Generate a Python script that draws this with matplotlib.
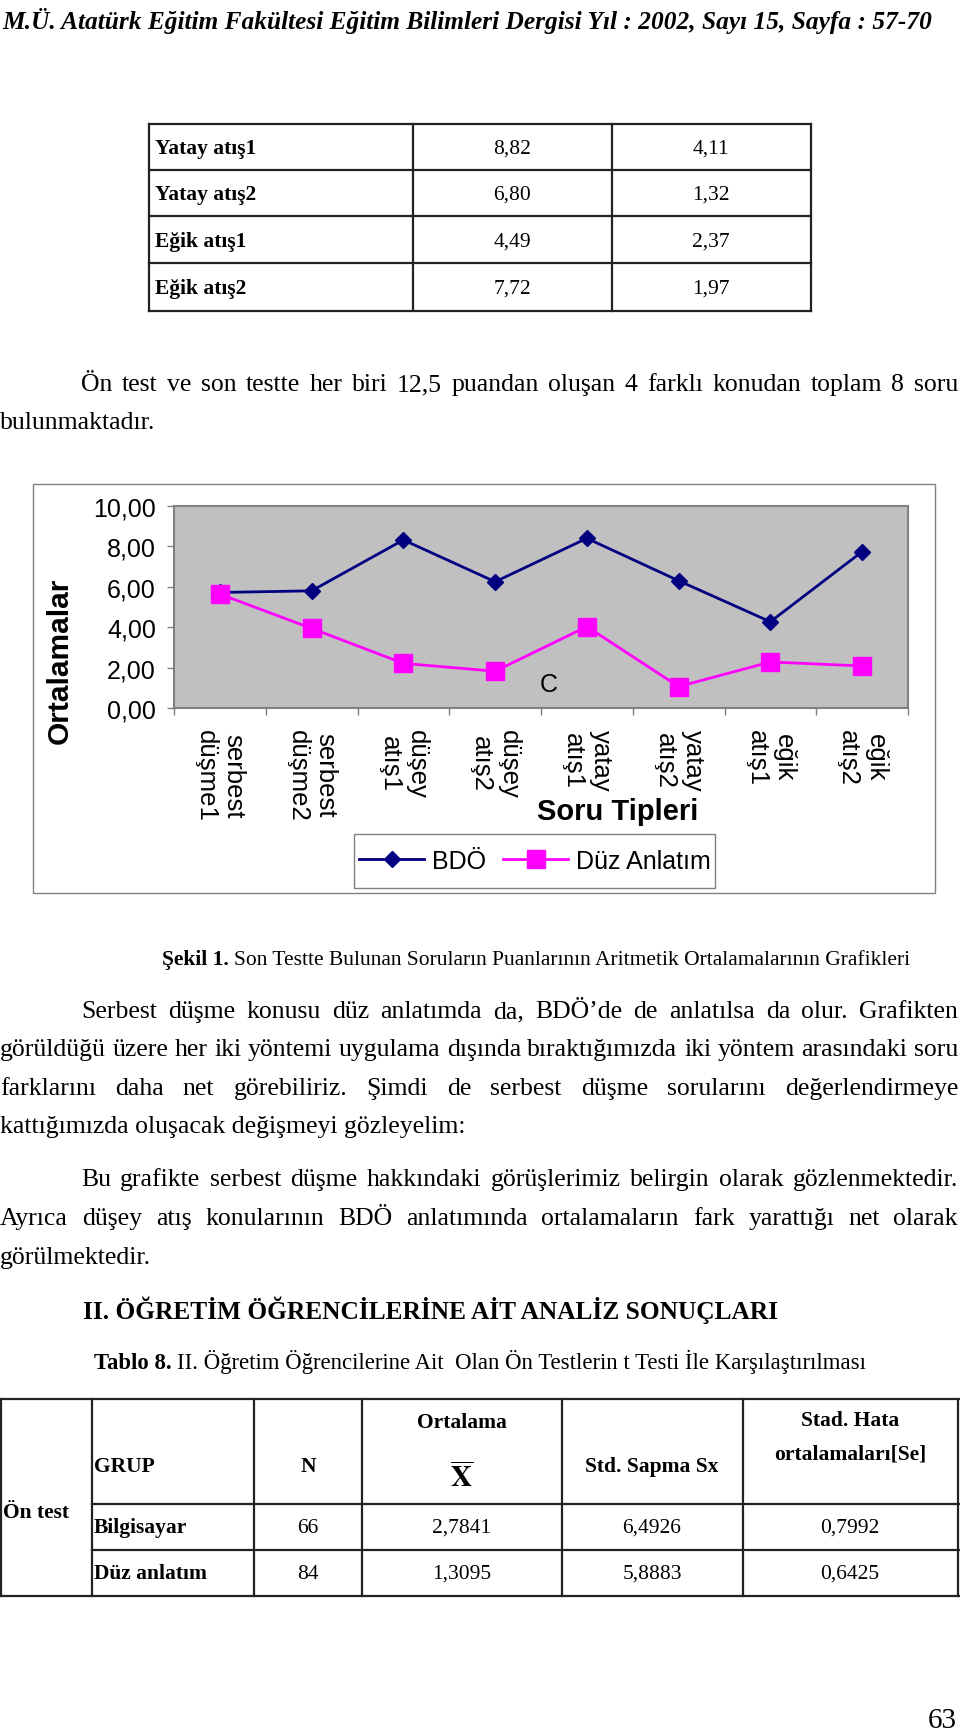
import matplotlib
matplotlib.use("Agg")
import matplotlib.pyplot as plt
from matplotlib.lines import Line2D
from matplotlib.patches import Rectangle
from matplotlib.ticker import FuncFormatter

# chart data (Şekil 1)
categories = ["serbest\ndüşme1", "serbest\ndüşme2", "düşey\natış1", "düşey\natış2",
              "yatay\natış1", "yatay\natış2", "eğik\natış1", "eğik\natış2"]
bdo = [5.72, 5.80, 8.32, 6.25, 8.40, 6.30, 4.27, 7.74]
duz = [5.64, 3.94, 2.21, 1.82, 4.03, 1.06, 2.28, 2.08]
y_ticks = [0, 2, 4, 6, 8, 10]

# table above the chart
t1_rows = ["Yatay atış1", "Yatay atış2", "Eğik atış1", "Eğik atış2"]
t1_a = ["8,82", "6,80", "4,49", "7,72"]
t1_b = ["4,11", "1,32", "2,37", "1,97"]

# Tablo 8
t2_groups = ["Bilgisayar", "Düz anlatım"]
t2_n = ["66", "84"]
t2_mean = ["2,7841", "1,3095"]
t2_sd = ["6,4926", "5,8883"]
t2_se = ["0,7992", "0,6425"]

header = "M.Ü. Atatürk Eğitim Fakültesi Eğitim Bilimleri Dergisi Yıl : 2002, Sayı 15, Sayfa : 57-70"
para1 = ["Ön test ve son testte her biri 12,5 puandan oluşan 4 farklı konudan toplam 8 soru",
         "bulunmaktadır."]
para2 = ["Serbest düşme konusu düz anlatımda da, BDÖ’de de anlatılsa da olur. Grafikten",
         "görüldüğü üzere her iki yöntemi uygulama dışında bıraktığımızda iki yöntem arasındaki soru",
         "farklarını daha net görebiliriz.  Şimdi de serbest düşme sorularını değerlendirmeye",
         "kattığımızda oluşacak değişmeyi gözleyelim:"]
para3 = ["Bu grafikte serbest düşme hakkındaki görüşlerimiz belirgin olarak gözlenmektedir.",
         "Ayrıca düşey atış konularının BDÖ anlatımında ortalamaların fark yarattığı net olarak",
         "görülmektedir."]

W, H = 960, 1731
SERIF = "Liberation Serif"
SANS = "Liberation Sans"
plt.rcParams["mathtext.fontset"] = "stix"

fig = plt.figure(figsize=(W / 100, H / 100), dpi=100)
fig.patch.set_facecolor("white")
rend = fig.canvas.get_renderer()


def txt(x, y, s, size, ha="left", va="baseline", family=SERIF, **kw):
    return fig.text(x / W, 1 - y / H, s, fontsize=size, ha=ha, va=va, family=family, **kw)


def width(t):
    return t.get_window_extent(rend).width


def hline(x0, x1, y, lw=1.6, color="#222222"):
    fig.add_artist(Line2D([x0 / W, x1 / W], [1 - y / H] * 2, lw=lw, color=color))


def vline(x, y0, y1, lw=1.6, color="#222222"):
    fig.add_artist(Line2D([x / W] * 2, [1 - y0 / H, 1 - y1 / H], lw=lw, color=color))


def fit_line(parts, x0, x1, y, size):
    ts = [txt(x0, y, s, size, **kw) for s, kw in parts]
    gap = 0.25 * size * 100 / 72
    scale = (x1 - x0) / (sum(width(t) for t in ts) + gap * (len(ts) - 1))
    for t in ts:
        t.set_fontsize(size * scale)
    x = x0
    for t in ts:
        t.set_x(x / W)
        x += width(t) + gap * scale


def justify(line, x0, x1, y, size):
    words = line.split()
    ts = [txt(x0, y, w, size) for w in words]
    ws = [width(t) for t in ts]
    gap = (x1 - x0 - sum(ws)) / (len(ws) - 1)
    x = x0
    for t, w in zip(ts, ws):
        t.set_x(x / W)
        x += w + gap


BODY = 18.5

# running header
fit_line([(header, dict(weight="bold", style="italic"))], 2, 930, 29, 22)

# table above the chart
hline(149, 811, 125)
hline(149, 811, 312)
for yy in [171, 217, 264]:
    hline(149, 811, yy)
for xx in [149, 413, 612, 811]:
    vline(xx, 125, 312)
row_base = [154, 200, 247, 294]
for i, yb in enumerate(row_base):
    txt(155, yb, t1_rows[i], 15.5, weight="bold")
    txt(512, yb, t1_a[i], 15.5, ha="center")
    txt(711, yb, t1_b[i], 15.5, ha="center")

# paragraph 1
justify(para1[0], 81, 958, 391, BODY)
txt(0, 429, para1[1], BODY)

# chart frame
fig.add_artist(Rectangle((33 / W, 1 - 894 / H), (935 - 33) / W, (894 - 485) / H,
                         transform=fig.transFigure, fill=False, edgecolor="#808080",
                         lw=1, zorder=-1))

ax = fig.add_axes([174 / W, 1 - 709 / H, (908 - 174) / W, (709 - 507) / H])
ax.set_facecolor("#C0C0C0")
xs = list(range(len(categories)))
ax.plot(xs, bdo, color="#000080", lw=2, marker="D", ms=8.5, mfc="#000080",
        mec="#000080", label="BDÖ", clip_on=False, zorder=3)
ax.plot(xs, duz, color="#FF00FF", lw=2, marker="s", ms=12.5, mfc="#FF00FF",
        mec="#FF00FF", label="Düz Anlatım", clip_on=False, zorder=4)
ax.set_xlim(-0.5, len(categories) - 0.5)
ax.set_ylim(0, 10)
ax.set_yticks(y_ticks)
ax.yaxis.set_major_formatter(FuncFormatter(lambda v, p: f"{v:.2f}".replace(".", ",")))
ax.set_xticks([i - 0.5 for i in range(len(categories) + 1)])
ax.set_xticklabels([])
ax.set_xticks(xs, minor=True)
ax.set_xticklabels(categories, minor=True, rotation=270, fontsize=18.5, family=SANS,
                   va="top", ha="center", multialignment="center")
ax.tick_params(axis="x", which="minor", length=0, pad=15)
ax.tick_params(axis="x", which="major", length=5, color="#808080", width=1)
ax.tick_params(axis="y", length=5, color="#808080", width=1, labelsize=18, pad=8)
for lab in ax.get_yticklabels():
    lab.set_family(SANS)
for s in ax.spines.values():
    s.set_color("#808080")
    s.set_linewidth(1.5)

txt(60, 661, "Ortalamalar", 21.5, ha="center", va="center", family=SANS,
    weight="bold", rotation=90)
txt(618, 812, "Soru Tipleri", 21, ha="center", va="center", family=SANS, weight="bold")
txt(549, 685, "C", 18, ha="center", va="center", family=SANS)

# legend, with an Excel-like frame drawn separately behind it
fig.add_artist(Rectangle((354 / W, 1 - 889 / H), (715 - 354) / W, (889 - 835) / H,
                         transform=fig.transFigure, facecolor="white", edgecolor="#808080",
                         lw=1, zorder=-1))
ax.legend(loc="center", bbox_to_anchor=(535 / W, 1 - 862 / H), bbox_transform=fig.transFigure,
          ncol=2, frameon=False, prop={"family": SANS, "size": 18}, handlelength=2.6,
          handletextpad=0.3, columnspacing=0.7, borderpad=0, borderaxespad=0)

# caption
fit_line([("Şekil 1.", dict(weight="bold")),
          ("Son Testte Bulunan Soruların Puanlarının Aritmetik Ortalamalarının Grafikleri", {})],
         162, 911, 965, 17)

# paragraph 2
p2_y = [1018, 1056, 1095, 1133]
justify(para2[0], 81, 958, p2_y[0], BODY)
justify(para2[1], 0, 958, p2_y[1], BODY)
justify(para2[2], 0, 958, p2_y[2], BODY)
txt(0, p2_y[3], para2[3], BODY)

# paragraph 3
p3_y = [1186, 1225, 1264]
justify(para3[0], 81, 958, p3_y[0], BODY)
justify(para3[1], 0, 958, p3_y[1], BODY)
txt(0, p3_y[2], para3[2], BODY)

fit_line([("II. ÖĞRETİM ÖĞRENCİLERİNE AİT ANALİZ SONUÇLARI", dict(weight="bold"))],
         83, 776, 1319, 21)
fit_line([("Tablo 8.", dict(weight="bold")),
          ("II. Öğretim Öğrencilerine Ait  Olan Ön Testlerin t Testi İle Karşılaştırılması", {})],
         94, 866, 1369, 17)

# Tablo 8 grid
cols = [1, 92, 254, 362, 562, 743, 958]
hline(0, 959, 1400)
hline(0, 959, 1597)
hline(92, 959, 1505)
hline(92, 959, 1551)
for xx in cols:
    vline(xx, 1400, 1597)

T2 = 15.5
txt(94, 1472, "GRUP", T2, weight="bold")
txt(308, 1472, "N", T2, ha="center", weight="bold")
txt(462, 1428, "Ortalama", T2, ha="center", weight="bold")
txt(462, 1487, r"$\mathbf{\overline{X}}$", 21, ha="center")
txt(652, 1472, "Std. Sapma Sx", T2, ha="center", weight="bold")
txt(850, 1426, "Stad. Hata", T2, ha="center", weight="bold")
txt(850, 1460, "ortalamaları[Se]", T2, ha="center", weight="bold")
txt(3, 1518, "Ön test", T2, weight="bold")
for i, yb in enumerate([1533, 1579]):
    txt(94, yb, t2_groups[i], T2, weight="bold")
    txt(308, yb, t2_n[i], T2, ha="center")
    txt(462, yb, t2_mean[i], T2, ha="center")
    txt(652, yb, t2_sd[i], T2, ha="center")
    txt(850, yb, t2_se[i], T2, ha="center")

txt(957, 1728, "63", 21, ha="right")

fig.savefig("out.png", dpi=100, facecolor="white")
